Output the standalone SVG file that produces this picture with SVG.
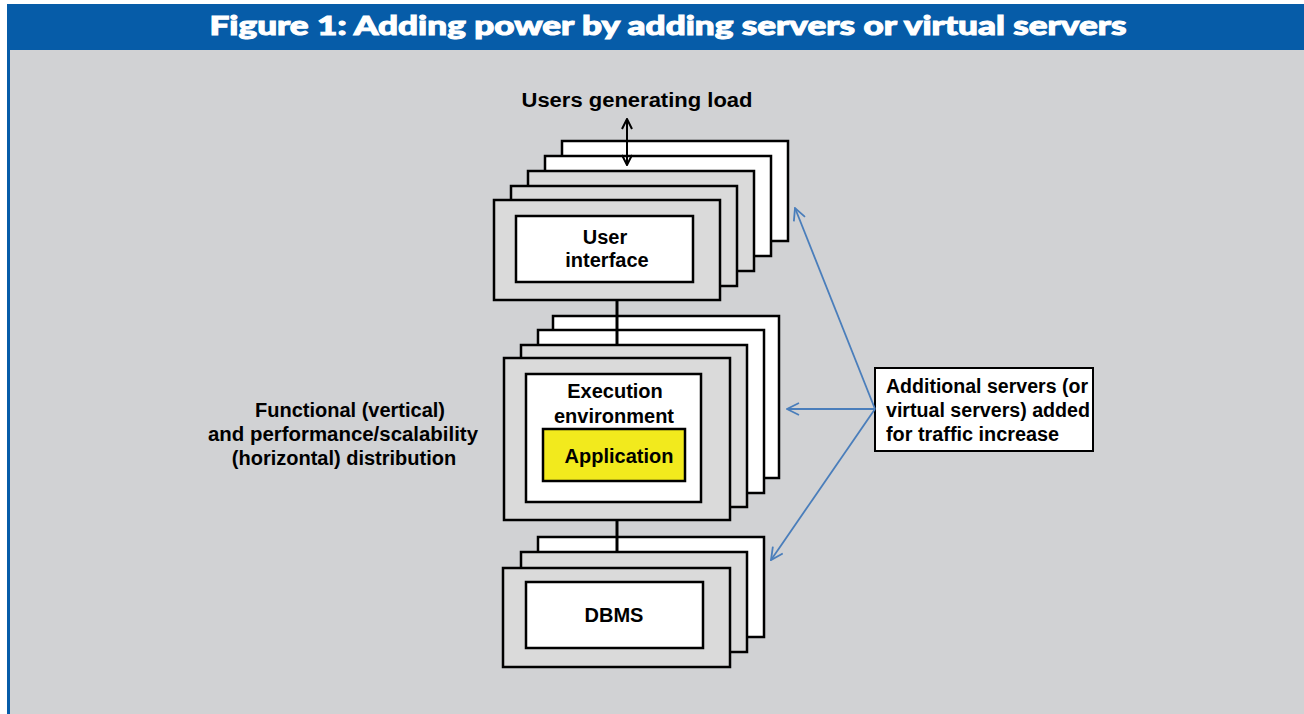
<svg xmlns="http://www.w3.org/2000/svg" width="1304" height="714" viewBox="0 0 1304 714">
<style>
.bg{fill:#d1d2d4}
.hdr{fill:#065ca8}
.title{font-family:Lato,"Liberation Sans",sans-serif;font-weight:900;font-size:26px;fill:#fff;stroke:#fff;stroke-width:1;paint-order:stroke}
.t{font-family:"Liberation Sans",Arial,sans-serif;font-weight:bold;font-size:20px;fill:#000}
.mid{text-anchor:middle}
.back{fill:#fff;stroke:#000;stroke-width:2.5}
.grey{fill:#dadada;stroke:#000;stroke-width:2.5}
.inner{fill:#fff;stroke:#000;stroke-width:2.5}
.app{fill:#f2ea1d;stroke:#000;stroke-width:2.5}
.conn{stroke:#000;stroke-width:3;fill:none}
.blk{stroke:#000;stroke-width:2;fill:none}
.blue{stroke:#4a7ebb;stroke-width:1.8;fill:none}
</style>
<defs>
<marker id="ah" viewBox="0 0 12 12" refX="11" refY="6" markerWidth="12" markerHeight="12" markerUnits="userSpaceOnUse" orient="auto-start-reverse">
<path d="M1,1 L11,6 L1,11" fill="none" stroke="#000" stroke-width="2"/>
</marker>
<marker id="bh" viewBox="0 0 14 14" refX="13" refY="7" markerWidth="14" markerHeight="14" markerUnits="userSpaceOnUse" orient="auto">
<path d="M1,1 L13,7 L1,13" fill="none" stroke="#4a7ebb" stroke-width="1.8"/>
</marker>
</defs>
<rect x="0" y="0" width="1304" height="714" fill="#fff"/>
<rect class="bg" x="10" y="50" width="1294" height="664"/>
<rect class="hdr" x="7" y="4" width="1297" height="46"/>
<rect class="hdr" x="7" y="50" width="3" height="664"/>
<text class="title mid" x="668" y="35" textLength="917" lengthAdjust="spacingAndGlyphs">Figure 1: Adding power by adding servers or virtual servers</text>

<text class="t mid" x="637" y="107" textLength="231" lengthAdjust="spacingAndGlyphs">Users generating load</text>

<g id="ui-stack">
<rect class="back" x="562" y="141" width="226" height="100"/>
<rect class="back" x="545" y="156" width="226" height="100"/>
<rect class="grey" x="528" y="171" width="226" height="100"/>
<rect class="grey" x="511" y="186" width="226" height="100"/>
<rect class="grey" x="494" y="200" width="226" height="100"/>
<rect class="inner" x="516" y="216" width="177" height="66"/>
<text class="t mid" x="605" y="244">User</text>
<text class="t mid" x="607" y="267">interface</text>
</g>

<g id="exec-stack">
<rect class="back" x="553" y="316" width="226" height="162"/>
<rect class="back" x="538" y="330" width="226" height="163"/>
<rect class="grey" x="521" y="345" width="226" height="162"/>
<rect class="grey" x="504" y="358" width="226" height="162"/>
<rect class="inner" x="526" y="374" width="175" height="128"/>
<text class="t mid" x="615" y="398">Execution</text>
<text class="t mid" x="614" y="423">environment</text>
<rect class="app" x="543" y="429" width="142" height="52"/>
<text class="t mid" x="619" y="463">Application</text>
</g>

<g id="dbms-stack">
<rect class="back" x="538" y="537" width="226" height="100"/>
<rect class="grey" x="521" y="552" width="226" height="100"/>
<rect class="grey" x="503" y="568" width="227" height="99"/>
<rect class="inner" x="526" y="582" width="177" height="66"/>
<text class="t mid" x="614" y="622">DBMS</text>
</g>

<g id="left-label">
<text class="t mid" x="350" y="417">Functional (vertical)</text>
<text class="t mid" x="343" y="441" textLength="270" lengthAdjust="spacingAndGlyphs">and performance/scalability</text>
<text class="t mid" x="344" y="465">(horizontal) distribution</text>
</g>

<g id="note">
<rect x="875" y="368" width="218" height="83" fill="#fff" stroke="#000" stroke-width="2"/>
<text class="t" x="886" y="393" textLength="202" lengthAdjust="spacingAndGlyphs">Additional servers (or</text>
<text class="t" x="886" y="417" textLength="204" lengthAdjust="spacingAndGlyphs">virtual servers) added</text>
<text class="t" x="886" y="441" textLength="173" lengthAdjust="spacingAndGlyphs">for traffic increase</text>
</g>

<g id="connectors">
<line class="blk" x1="627" y1="119" x2="627" y2="165" marker-start="url(#ah)" marker-end="url(#ah)"/>
<line class="conn" x1="617" y1="300" x2="617" y2="345"/>
<line class="conn" x1="617" y1="520" x2="617" y2="552"/>
<line class="blue" x1="875" y1="409" x2="795" y2="208" marker-end="url(#bh)"/>
<line class="blue" x1="875" y1="409" x2="787" y2="409" marker-end="url(#bh)"/>
<line class="blue" x1="875" y1="409" x2="771" y2="560" marker-end="url(#bh)"/>
</g>
</svg>
